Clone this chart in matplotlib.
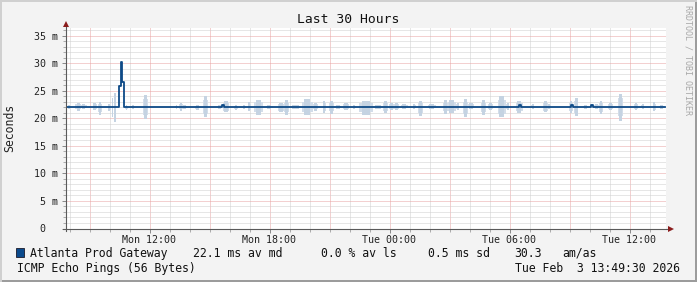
import matplotlib
matplotlib.use("Agg")
import matplotlib.pyplot as plt
from matplotlib.patches import Rectangle
from matplotlib.lines import Line2D

# ---------------- data ----------------
title = "Last 30 Hours"
y_label = "Seconds"
watermark = "RRDTOOL / TOBI OETIKER"
span_hours = 30.0
first_full_hour = 0.175          # start 07:49:30 -> first hour mark 08:00
xtick_hours = [4.175, 10.175, 16.175, 22.175, 28.175]
xtick_labels = ["Mon 12:00", "Mon 18:00", "Tue 00:00", "Tue 06:00", "Tue 12:00"]
ytick_values = [0, 5, 10, 15, 20, 25, 30, 35]
ytick_labels = ["0  ", "5 m", "10 m", "15 m", "20 m", "25 m", "30 m", "35 m"]
y_max = 36.45

# median RTT (ms), step series
median_hours = [0.0, 2.65, 2.75, 2.82, 2.92, 7.80, 7.92, 22.63, 22.75,
                25.25, 25.33, 26.25, 26.33, 29.97]
median_ms = [22.1, 25.9, 30.3, 26.6, 22.1, 22.4, 22.1, 22.4, 22.1,
             22.4, 22.1, 22.4, 22.1, 22.1]

# smoke (spread of individual pings), ms
smoke_start = [0.08, 0.47, 0.75, 1.33, 1.62, 2.08, 2.28, 2.38, 2.97, 3.25, 3.87,
               5.47, 5.67, 5.83, 6.47, 6.83, 7.58, 7.83, 8.40, 8.83, 9.08, 9.42,
               10.00, 10.58, 10.92, 11.17, 11.80, 12.33, 12.83, 13.17, 13.42, 13.83,
               14.33, 14.67, 15.33, 15.83, 16.17, 16.42, 16.75, 17.33, 17.58, 18.08,
               18.83, 19.08, 19.50, 19.83, 20.08, 20.75, 21.08, 21.58, 22.00, 22.50,
               23.25, 23.83, 24.08, 25.17, 25.42, 25.83, 26.42, 26.67, 27.08, 27.58,
               28.42, 28.75, 29.33, 29.67]
smoke_end = [0.25, 0.75, 1.03, 1.53, 1.78, 2.25, 2.35, 2.50, 3.08, 3.42, 4.08,
             5.58, 5.83, 6.03, 6.67, 7.08, 7.80, 8.17, 8.58, 9.00, 9.25, 9.83,
             10.33, 10.92, 11.17, 11.75, 12.33, 12.58, 13.00, 13.42, 13.75, 14.17,
             14.50, 15.33, 15.83, 16.08, 16.42, 16.67, 17.08, 17.50, 17.83, 18.50,
             19.08, 19.50, 19.67, 20.08, 20.42, 21.00, 21.33, 22.00, 22.17, 22.83,
             23.42, 24.08, 24.25, 25.33, 25.62, 26.08, 26.67, 26.83, 27.33, 27.83,
             28.58, 28.92, 29.50, 29.92]
smoke_lo = [21.8, 21.4, 21.7, 21.5, 20.6, 21.3, 20.3, 19.4, 21.6, 21.7, 19.9,
            21.8, 21.4, 21.8, 21.6, 20.2, 21.8, 21.1, 21.6, 21.8, 21.3, 20.6,
            21.8, 21.1, 20.6, 21.8, 20.6, 21.4, 21.0, 20.9, 21.8, 21.5,
            21.8, 20.6, 21.8, 21.0, 21.5, 21.6, 21.7, 21.7, 20.4, 21.7,
            20.9, 21.0, 21.6, 20.2, 21.7, 20.6, 21.5, 20.2, 21.6, 21.0,
            21.7, 21.1, 21.7, 21.0, 20.5, 21.8, 21.7, 20.8, 21.5, 19.6,
            21.5, 21.7, 21.3, 21.8]
smoke_hi = [22.4, 22.8, 22.6, 22.8, 23.0, 22.7, 23.7, 24.6, 22.4, 22.5, 24.3,
            22.4, 22.8, 22.4, 22.4, 24.0, 22.4, 23.1, 22.4, 22.4, 23.0, 23.4,
            22.4, 22.8, 23.3, 22.4, 23.5, 22.8, 23.1, 23.1, 22.4, 22.8,
            22.4, 23.2, 22.4, 23.1, 22.8, 22.9, 22.6, 22.6, 23.2, 22.6,
            23.3, 23.4, 22.8, 23.6, 22.8, 23.3, 22.8, 24.0, 22.8, 23.2,
            22.6, 23.1, 22.6, 23.1, 23.7, 22.4, 22.6, 23.2, 22.8, 24.5,
            22.8, 22.6, 23.0, 22.4]

legend_name = "Atlanta Prod Gateway"
legend_median = "22.1 ms av md"
legend_loss = "0.0 % av ls"
legend_sd = "0.5 ms sd"
legend_amas_value = "30.3"
legend_amas_unit = "am/as"
footer_left = "ICMP Echo Pings (56 Bytes)"
footer_right = "Tue Feb  3 13:49:30 2026"

# ---------------- style ----------------
W, H = 697, 282
MONO = "DejaVu Sans Mono"
line_color = "#0e4a87"
smoke_outer = "#d3dde9"
smoke_inner = "#c5d3e2"
minor_grid = "#cfcfcf"
major_grid = "#e9a3a3"
axis_color = "#5a5a5a"
arrow_color = "#8b1c1c"
bg = "#f3f3f3"

fig = plt.figure(figsize=(W / 100, H / 100), dpi=100, facecolor=bg)

def px(x, y):
    return x / W, 1 - y / H

x0, x1 = 66, 666
y_top, y_bot = 28, 228.5
ax = fig.add_axes([x0 / W, 1 - y_bot / H, (x1 - x0) / W, (y_bot - y_top) / H])
ax.set_facecolor("white")
ax.set_xlim(0, span_hours)
ax.set_ylim(0, y_max)
for s in ax.spines.values():
    s.set_visible(False)

dot = (0, (1, 1))
# grids
h = first_full_hour
while h < span_hours:
    k = (h - xtick_hours[0]) / 3.0
    is_major = abs(k - round(k)) < 1e-6
    ln = ax.axvline(h, color=major_grid if is_major else minor_grid, lw=0.72,
                    linestyle=dot, zorder=1)
    ln.set_snap(True)
    h += 1.0
for v in range(1, int(y_max) + 1):
    ln = ax.axhline(v, color=major_grid if v % 5 == 0 else minor_grid, lw=0.72,
                    linestyle=dot, zorder=1)
    ln.set_snap(True)

# smoke: moderate spread over the whole interval, full spread in its middle part
mid = 22.1
for s, e, lo, hi in zip(smoke_start, smoke_end, smoke_lo, smoke_hi):
    ilo = mid - (mid - lo) * 0.65
    ihi = mid + (hi - mid) * 0.65
    ax.fill_between([s, e], [ilo, ilo], [ihi, ihi], color=smoke_outer, lw=0, zorder=2)
    d = e - s
    cs, ce = s + d * 0.2, e - d * 0.2
    ax.fill_between([cs, ce], [lo, lo], [hi, hi], color=smoke_inner, lw=0, zorder=2)

# median line
ax.step(median_hours, median_ms, where="post", color=line_color, lw=1.3, zorder=4)

# ticks
ax.set_xticks(xtick_hours)
ax.set_xticklabels(xtick_labels, fontfamily=MONO, fontsize=7.2)
ax.set_xticks([first_full_hour + i for i in range(30)], minor=True)
ax.set_yticks(ytick_values)
ax.set_yticklabels(ytick_labels, fontfamily=MONO, fontsize=7.2)
ax.set_yticks(list(range(0, 37)), minor=True)
ax.tick_params(axis="both", which="major", length=3, width=0.7, color="#888888",
               labelcolor="#222222")
ax.tick_params(axis="x", which="major", pad=1.5)
ax.tick_params(axis="y", which="major", pad=2.5)
ax.tick_params(axis="both", which="minor", length=2, width=0.7, color="#aaaaaa")

# axes lines with arrows
ax.add_line(Line2D([0, 0], [-0.01, 1.015], transform=ax.transAxes, color=axis_color,
                   lw=0.8, clip_on=False, zorder=5))
ax.add_line(Line2D([-0.005, 1.008], [0, 0], transform=ax.transAxes, color=axis_color,
                   lw=0.8, clip_on=False, zorder=5))
ax.plot([0], [1.02], marker="^", ms=4.5, color=arrow_color, transform=ax.transAxes,
        clip_on=False, zorder=6, mew=0)
ax.plot([1.009], [0], marker=">", ms=4.5, color=arrow_color, transform=ax.transAxes,
        clip_on=False, zorder=6, mew=0)

# titles
fig.text(*px(347.8, 19.5), title, fontfamily=MONO, fontsize=9.4, ha="center",
         va="center", color="#111111")
fig.text(*px(10, 128), y_label, fontfamily=MONO, fontsize=8.3, ha="center",
         va="center", rotation=90, color="#222222")
fig.text(*px(688, 60), watermark, fontfamily=MONO, fontsize=6, ha="center",
         va="center", rotation=270, color="#a8a8a8")

# legend
fig.patches.append(Rectangle(px(15.5, 257), 8.5 / W, 9 / H, transform=fig.transFigure,
                             facecolor="#0b4a8c", edgecolor="#1a1a2a", lw=0.6))
leg_y = 253.5
for xx, txt in [(30, legend_name), (193.3, legend_median), (321, legend_loss),
                (428.3, legend_sd), (514, legend_amas_value), (562.7, legend_amas_unit)]:
    fig.text(*px(xx, leg_y), txt, fontfamily=MONO, fontsize=8.3, ha="left",
             va="center", color="#111111")
fig.text(*px(16.7, 268.5), footer_left, fontfamily=MONO, fontsize=8.3, ha="left",
         va="center", color="#111111")
fig.text(*px(680, 268.5), footer_right, fontfamily=MONO, fontsize=8.3, ha="right",
         va="center", color="#111111")

# 3D frame
fig.patches.append(Rectangle((0, 0), 1, 2 / H, transform=fig.transFigure,
                             facecolor="#9c9c9c", lw=0))
fig.patches.append(Rectangle((1 - 2 / W, 0), 2 / W, 1, transform=fig.transFigure,
                             facecolor="#9c9c9c", lw=0))
fig.patches.append(Rectangle((0, 1 - 2 / H), 1, 2 / H, transform=fig.transFigure,
                             facecolor="#d0d0d0", lw=0))
fig.patches.append(Rectangle((0, 0), 2 / W, 1, transform=fig.transFigure,
                             facecolor="#d0d0d0", lw=0))

fig.savefig("out.png", dpi=100, facecolor=bg)
